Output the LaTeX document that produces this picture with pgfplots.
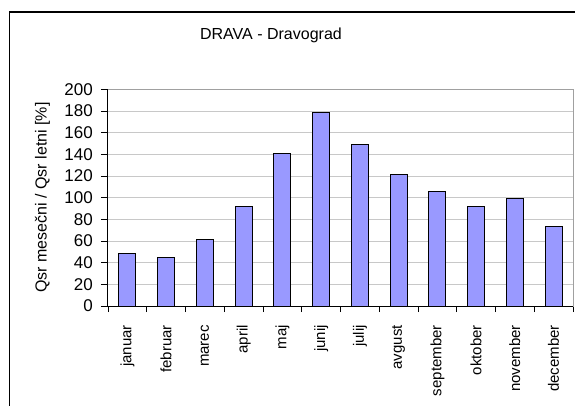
\documentclass[border=0pt]{standalone}
\usepackage{pgfplots}
\pgfplotsset{compat=1.18}
\usepackage{fontspec}
\setmainfont{Liberation Sans}

\definecolor{barfill}{HTML}{9999FF}
\definecolor{gridgray}{HTML}{C8C8C8}
\definecolor{framegray}{HTML}{A0A0A0}

% monthly mean discharge relative to the annual mean, in percent
\pgfplotstableread{
idx value
0  48
1  45
2  61
3  92
4  141
5  179
6  149
7  121
8  106
9  92
10 99
11 73
}\dravadata

\begin{document}
\begin{tikzpicture}[x=1pt,y=1pt]
\useasboundingbox (0,0) rectangle (575,405);
% outer chart frame
\draw[line width=1.3pt,black] (9.5,-5) -- (9.5,393) -- (580,393);
\begin{axis}[
  at={(108pt,99pt)}, anchor=south west,
  scale only axis,
  width=465pt, height=216.7pt,
  xmin=-0.5, xmax=11.5,
  ymin=0, ymax=200,
  ytick={0,20,...,200},
  xtick={0,...,11},
  xticklabels={januar,februar,marec,april,maj,junij,julij,avgust,september,oktober,november,december},
  minor xtick={-0.5,0.5,...,11.5},
  major x tick style={draw=none},
  tick align=outside,
  major tick length=7pt,
  minor tick length=6pt,
  every tick/.style={black, line width=0.9pt},
  xtick pos=bottom, ytick pos=left,
  ymajorgrids,
  grid style={gridgray, line width=0.9pt},
  axis line style={framegray, line width=1pt},
  /pgf/number format/assume math mode=true,
  yticklabel style={font=\fontsize{17}{17}\selectfont, inner sep=0pt, xshift=-8pt},
  xticklabel style={font=\fontsize{15}{15}\selectfont, rotate=90, anchor=east, inner sep=0pt, xshift=-12pt},
  ylabel={Qsr mesečni / Qsr letni [\%]},
  ylabel style={font=\fontsize{16}{16}\selectfont, at={(axis description cs:-0.1409,0.5)}, anchor=center, rotate=0},
  title={DRAVA - Dravograd},
  title style={font=\fontsize{16}{16}\selectfont, at={(axis description cs:0.3505,1.222)}, anchor=center},
  clip=false,
]
\addplot[ybar, bar width=17pt, fill=barfill, draw=black, line width=1pt] table[x=idx, y=value] {\dravadata};
\draw[black, line width=1pt] (rel axis cs:0,1) -- (rel axis cs:0,0) -- (rel axis cs:1,0);
\end{axis}
\end{tikzpicture}
\end{document}
